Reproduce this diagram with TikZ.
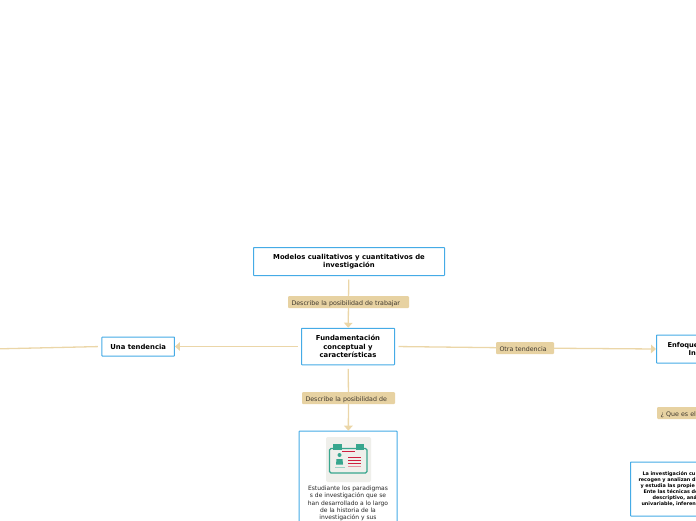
\documentclass[tikz,border=0pt]{standalone}
\usepackage{fontspec}
\setmainfont{DejaVu Sans}
\usetikzlibrary{arrows.meta}
\definecolor{boxblue}{HTML}{45ABE6}
\definecolor{linkbeige}{HTML}{EBD6A8}
\definecolor{labelbeige}{HTML}{E7D2A2}
\definecolor{labeltext}{HTML}{3F382E}
\definecolor{icongreen}{HTML}{38A68E}
\definecolor{iconred}{HTML}{CF1F3F}
\definecolor{icongrey}{HTML}{EFEFEB}
\tikzset{
    topicbox/.style={shape=rectangle,draw=boxblue,fill=white,line width=1pt,rounded corners=.5pt,
        inner sep=0pt,font=\bfseries\fontsize{6.85}{8.4}\selectfont,align=center},
    labelbox/.style={shape=rectangle,fill=labelbeige,rounded corners=1pt,inner ysep=0pt,inner xsep=3.5pt,
        text=labeltext,font=\fontsize{6.3}{7}\selectfont,minimum height=12pt,text height=7pt,text depth=1pt,align=left},
    link/.style={draw=linkbeige,line width=1.3pt,shorten <=3.5pt},
    linkto/.style={link,-{Triangle[length=5pt,width=8.5pt,color=linkbeige]}}
}
\begin{document}
\begin{tikzpicture}
            [x=1pt, y=-1pt]
            \path [use as bounding box, clip] (0, 0) rectangle (696, 520);

            \node[topicbox,minimum width=191pt,minimum height=28pt] (modelos) at (349, 261.5) {Modelos cualitativos y cuantitativos de\\[-.3pt]investigación};
            \node[topicbox,minimum width=93pt,minimum height=36.5pt] (fund) at (348, 346.5) {Fundamentación\\[.4pt]conceptual y\\[.4pt]características};
            \node[topicbox,minimum width=72.5pt,minimum height=19pt] (una) at (138.2, 346.5) {Una tendencia};
            \node[topicbox,text width=130pt,minimum height=28pt,anchor=west,align=left,font=\bfseries\fontsize{6.7}{8.2}\selectfont] (enfoque) at (656, 349) {\hspace*{11pt}Enfoque\\\hspace*{32pt}In};
            \node[topicbox,minimum width=98pt,minimum height=130pt,anchor=north] (estudiante) at (348, 430.7) {};
            \node[topicbox,text width=130pt,minimum height=54pt,anchor=west,align=left,font=\bfseries\fontsize{4.9}{6}\selectfont] (analisis) at (630, 489)
                {\hspace*{12pt}La investigación cu\\\hspace*{8pt}recogen y analizan d\\\hspace*{10pt}y estudia las propie\\\hspace*{13pt}Ente las técnicas de\\\hspace*{22pt}descriptivo, aná\\\hspace*{11pt}univariable, inferen};

            \node[labelbox,text width=114pt] (trabajar) at (348.5, 302) {Describe la posibilidad de trabajar};
            \node[labelbox,text width=86pt] (posibilidad) at (348.5, 398) {Describe la posibilidad de};
            \node[labelbox,text width=51pt] (otra) at (525, 348) {Otra tendencia};
            \node[labelbox,text width=60pt,anchor=west] (quees) at (657, 413) {¿ Que es el};
            \coordinate (leftend) at (0, 348.8);

            \path (modelos) edge[link] (trabajar);
            \path (trabajar) edge[linkto,shorten <=0pt] (fund);
            \path (fund) edge[link] (posibilidad);
            \path (posibilidad) edge[linkto,shorten <=0pt] (estudiante);
            \path (fund.west) edge[linkto] (una.east);
            \path (una.west) edge[link] (leftend);
            \path (fund.east) edge[link] (otra);
            \path (otra) edge[linkto,shorten <=0pt] (enfoque.west);

            % icon of the card
            \fill[icongrey,rounded corners=2pt] (326, 437) rectangle (371, 482);
            \draw[icongreen,line width=1.3pt,rounded corners=1.5pt] (329.5, 448.5) rectangle (367, 473);
            \fill[icongreen] (333, 444) rectangle (342, 450);
            \fill[icongreen] (356, 444) rectangle (364, 450);
            \draw[iconred,line width=.8pt] (342, 451.5) -- (355, 451.5);
            \fill[icongreen] (339.5, 455) circle (2pt);
            \fill[icongreen] (336, 464.5) -- (336.5, 459) -- (342.5, 459) -- (343, 464.5) -- cycle;
            \draw[icongreen!50,line width=.8pt] (335, 467.5) -- (345, 467.5);
            \foreach \ly/\lc in {457/iconred, 460/iconred, 463/iconred, 466.5/iconred!50}
                \draw[\lc,line width=1pt] (348, \ly) -- (361, \ly);

            \node[text=black!85,inner sep=0pt,align=center,font=\fontsize{6}{7.4}\selectfont,anchor=north] (estudiantetext) at (348, 485.5)
                {Estudiante los paradigmas\\s de investigación que se\\han desarrollado a lo largo\\de la historia de la\\investigación y sus};
        \end{tikzpicture}
\end{document}
